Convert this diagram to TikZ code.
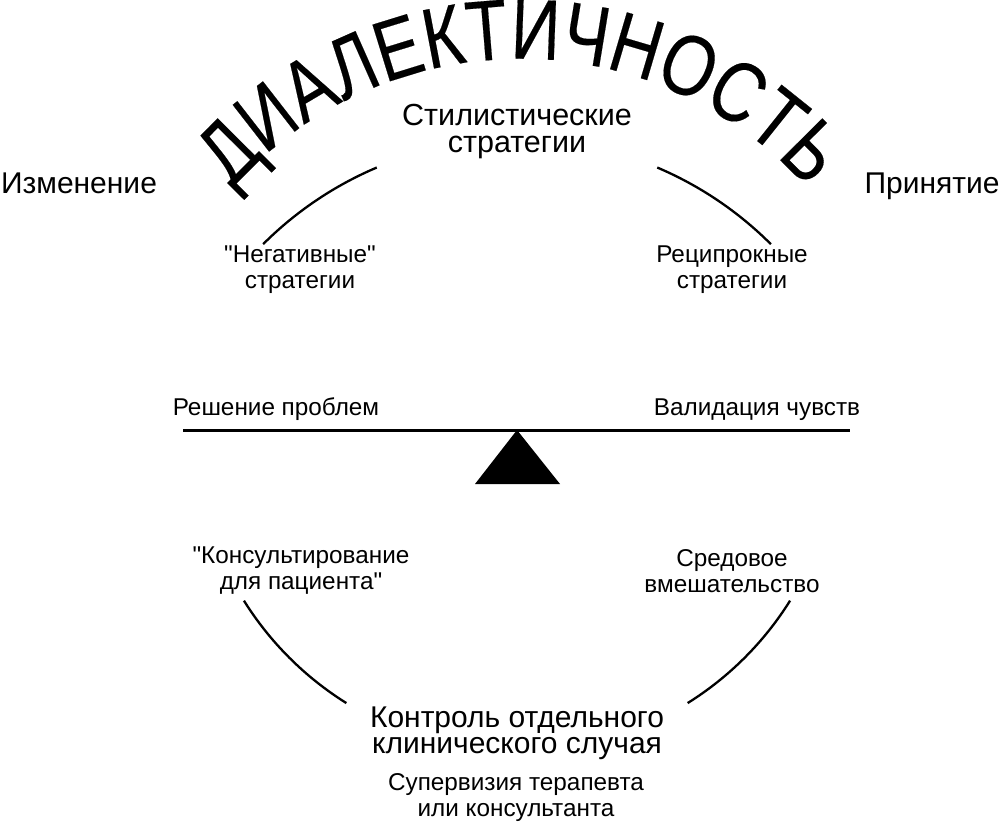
\documentclass[tikz,border=0pt]{standalone}
\usepackage{fontspec}
\setmainfont{Liberation Sans}
\newfontfamily\arcfont[FakeStretch=0.8,FakeBold=0.2]{Liberation Sans}
\usetikzlibrary{decorations.text}

\begin{document}
\begin{tikzpicture}[x=1pt,y=1pt,
sidenode/.style={inner sep=0pt, anchor=base, font=\fontsize{30}{30}\selectfont},
mainnode/.style={align=center, inner sep=0pt, font=\fontsize{30.5}{27}\selectfont},
stratnode/.style={align=center, inner sep=0pt, font=\fontsize{24.3}{26}\selectfont},
casenode/.style={align=center, inner sep=0pt, font=\fontsize{30}{26}\selectfont},
arcline/.style={line width=2.3pt},
]
\useasboundingbox (0,0) rectangle (1000,-824);

%Title along the arc
\coordinate (dialc) at (520,-443);
\path[decorate, decoration={text along path, text align=center,
  text={|\arcfont\fontsize{86}{86}\selectfont|ДИАЛЕКТИЧНОСТЬ}}]
  ([shift={(150:384)}]dialc) arc[start angle=150, end angle=30, radius=384];

%Nodes
\node[sidenode]   (change)  at (79,-193)  {Изменение};
\node[sidenode]   (accept)  at (932,-193) {Принятие};
\node[mainnode]   (style)   at (517,-132) {Стилистические\\стратегии};
\node[stratnode]  (irrev)   at (300,-270) {\textquotedbl Негативные\textquotedbl\\стратегии};
\node[stratnode]  (recip)   at (732,-270) {Реципрокные\\стратегии};
\node[stratnode, anchor=base] (solve) at (276,-415) {Решение проблем};
\node[stratnode, anchor=base] (valid) at (757,-415) {Валидация чувств};
\node[stratnode]  (consult) at (301,-571) {\textquotedbl Консультирование\\для пациента\textquotedbl};
\node[stratnode]  (envir)   at (732,-571) {Средовое\\вмешательство};
\node[casenode]   (case)    at (517,-733) {Контроль отдельного\\клинического случая};
\node[stratnode]  (superv)  at (516,-798) {Супервизия терапевта\\или консультанта};

%Balance
\coordinate (beamL) at (183,-430);
\coordinate (beamR) at (850,-430);
\coordinate (pivot) at (517,-430);
\draw[line width=3pt] (beamL) -- (beamR);
\fill (pivot) -- ++(-42,-54) -- ++(85,0) -- cycle;

%Arcs
\coordinate (topc) at (517,-498);
\coordinate (botc) at (517,-430);
\draw[arcline] ([shift={(135:359)}]topc) arc[start angle=135, end angle=113, radius=359];
\draw[arcline] ([shift={(67:359)}]topc) arc[start angle=67, end angle=45, radius=359];
\draw[arcline] ([shift={(212:322)}]botc) arc[start angle=212, end angle=238, radius=322];
\draw[arcline] ([shift={(302:322)}]botc) arc[start angle=302, end angle=328, radius=322];

\end{tikzpicture}
\end{document}
